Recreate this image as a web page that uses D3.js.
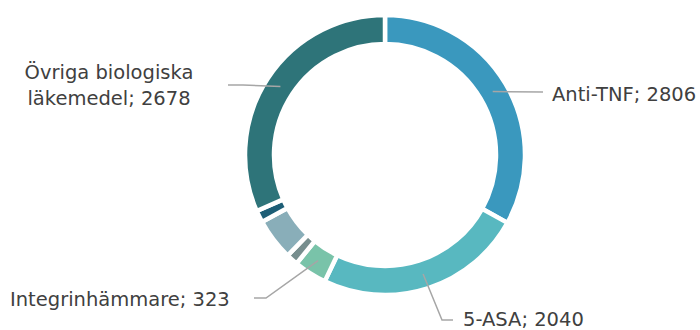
<!DOCTYPE html>
<html>
<head>
  <meta charset="utf-8">
  <title>Läkemedel</title>
  <style>
    body { margin: 0; background: #fff; }
    svg { display: block; }
  </style>
</head>
<body>
<script src="https://cdnjs.cloudflare.com/ajax/libs/d3/7.8.5/d3.min.js"></script>
<script>
var w = 700; // window width
var h = 330; // window height

// data, clockwise from the top
var categories = ["Anti-TNF", "5-ASA", "Integrinhämmare", "Övrigt 1", "Övrigt 2", "Övrigt 3", "Övriga biologiska läkemedel"];
var values = [2806, 2040, 323, 115, 410, 117, 2678];
var colors = ["#3a98be", "#58b8c0", "#79c3a9", "#778e8e", "#89aeb9", "#1d5e76", "#2e7479"];
// only these slices get a label
var labelLines = [["Anti-TNF; 2806"], ["5-ASA; 2040"], ["Integrinhämmare; 323"], null, null, null, ["Övriga biologiska", "läkemedel; 2678"]];

var cx = 385, cy = 155;
var outerR = 140, innerR = 111;

var svg = d3.select("body").append("svg")
  .attr("width", w)
  .attr("height", h);

var pie = d3.pie().sort(null).value(function(d) { return d; });
var arc = d3.arc().innerRadius(innerR).outerRadius(outerR);
var midArc = d3.arc().innerRadius(125).outerRadius(125);

var arcs = pie(values);

var g = svg.append("g").attr("transform", "translate(" + cx + "," + cy + ")");

g.selectAll("path.slice")
  .data(arcs)
  .enter()
  .append("path")
  .attr("class", "slice")
  .attr("d", arc)
  .attr("fill", function(d, i) { return colors[i]; })
  .attr("stroke", "#fff")
  .attr("stroke-width", 4.5)
  .attr("stroke-linejoin", "miter");

// leader line elbows and label anchors (relative to chart center)
var labelPos = {
  0: { elbow: [158, -63], end: [158, -63], text: [167, -54], anchor: "start" },
  1: { elbow: [57, 165], end: [68, 165], text: [78, 171], anchor: "start" },
  2: { elbow: [-119, 143], end: [-131, 143], text: [-375, 151], anchor: "start" },
  6: { elbow: [-142, -70], end: [-157, -70], text: [-276, -76], anchor: "middle" }
};

arcs.forEach(function(d, i) {
  if (!labelLines[i]) return;
  var p = labelPos[i];
  var c = midArc.centroid(d);
  g.append("polyline")
    .attr("points", [c, p.elbow, p.end].map(function(q) { return q.join(","); }).join(" "))
    .attr("fill", "none")
    .attr("stroke", "#a6a6a6")
    .attr("stroke-width", 1.5);

  var t = g.append("text")
    .attr("x", p.text[0])
    .attr("y", p.text[1])
    .attr("text-anchor", p.anchor)
    .attr("font-family", "'DejaVu Sans', sans-serif")
    .attr("font-size", 19.5)
    .attr("fill", "#404040");
  labelLines[i].forEach(function(line, k) {
    t.append("tspan")
      .attr("x", p.text[0])
      .attr("dy", k === 0 ? 0 : 26)
      .text(line);
  });
});
</script>
</body>
</html>
